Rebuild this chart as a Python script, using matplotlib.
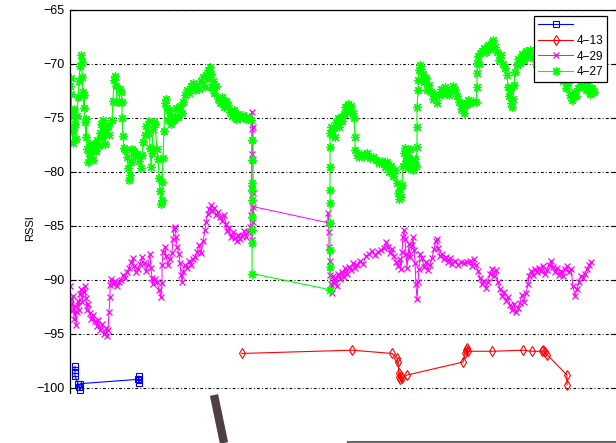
import matplotlib
matplotlib.use("Agg")
import matplotlib.pyplot as plt
from matplotlib.lines import Line2D

plt.rcParams["font.family"] = ["Liberation Sans", "DejaVu Sans"]

# RSSI traces (sample position, dBm)
blue_t = [75, 75, 75, 75, 78, 79, 80, 80, 138, 139, 139, 139]
blue_v = [-98.0, -98.3, -98.6, -98.9, -99.6, -99.9, -100.2, -99.6, -99.2, -98.9, -99.5, -99.3]

red_t = [242, 352, 392, 397, 398, 399, 399, 400, 401, 402, 407, 463, 465, 466, 467, 468,
         492, 523, 532, 542, 543, 545, 547, 567, 567]
red_v = [-96.8, -96.5, -96.8, -97.2, -97.6, -98.6, -99.0, -99.2, -98.9, -99.1, -98.8, -97.6,
         -96.8, -96.5, -96.3, -96.6, -96.6, -96.5, -96.6, -96.6, -96.5, -96.7, -96.9, -98.8, -99.7]

mag_t = [70, 71, 72, 73, 74, 75, 76, 77, 78, 79, 80, 81, 82, 84, 85, 86, 87, 88, 90, 91, 93, 95,
         97, 98, 100, 102, 104, 106, 107, 108, 109, 110, 110, 111, 113, 115, 117, 119, 121, 123,
         125, 127, 129, 131, 133, 134, 136, 138, 140, 142, 144, 146, 148, 150, 151, 152, 153, 155,
         157, 159, 161, 162, 162, 163, 165, 166, 168, 170, 172, 173, 174, 175, 176, 177, 179, 180,
         181, 182, 183, 185, 187, 189, 191, 193, 195, 197, 199, 201, 203, 205, 206, 208, 209, 211,
         212, 214, 216, 218, 220, 222, 224, 226, 227, 229, 231, 233, 235, 237, 238, 240, 242, 244,
         246, 248, 250, 251, 251, 252, 252, 252, 253, 253, 253, 253, 252, 253,
         328, 328, 329, 329, 330, 330, 331, 332, 333, 334, 335, 337, 338, 340, 342, 344, 345, 347,
         349, 351, 353, 355, 357, 360, 363, 366, 369, 372, 375, 378, 381, 384, 386, 388, 390, 392,
         394, 396, 398, 400, 401, 402, 403, 404, 405, 406, 407, 408, 409, 410, 412, 413, 414, 415,
         416, 417, 418, 419, 420, 422, 424, 426, 428, 430, 432, 434, 436, 437, 438, 440, 442, 444,
         446, 448, 450, 452, 455, 458, 461, 464, 467, 470, 472, 474, 476, 478, 480, 482, 484, 486,
         488, 490, 492, 494, 496, 498, 500, 502, 504, 506, 508, 510, 512, 514, 516, 518, 520, 522,
         524, 526, 528, 529, 531, 533, 535, 537, 539, 541, 543, 545, 547, 549, 551, 553, 555, 557,
         559, 561, 563, 565, 567, 569, 571, 573, 575, 577, 579, 581, 583, 585, 587, 589, 591]
mag_v = [-90.6, -91.8, -92.9, -91.5, -93.6, -92.4, -94.2, -93.0, -91.9, -92.8, -91.3, -90.8,
         -92.0, -91.1, -90.6, -91.7, -92.8, -92.2, -93.1, -93.6, -93.2, -93.8, -94.3, -93.7,
         -94.6, -94.1, -95.0, -94.4, -95.2, -94.6, -93.0, -91.6, -90.5, -89.9, -90.4, -90.1,
         -90.6, -90.2, -90.0, -89.5, -89.8, -89.3, -88.9, -88.3, -88.0, -88.7, -89.3, -89.0,
         -88.5, -87.9, -88.4, -89.2, -88.6, -87.6, -88.9, -89.8, -90.4, -89.9, -90.2, -90.9,
         -91.6, -90.3, -88.6, -87.4, -86.9, -87.8, -88.6, -88.1, -87.5, -86.2, -85.3, -85.1,
         -86.0, -86.9, -87.6, -88.4, -89.5, -90.2, -89.3, -88.6, -88.9, -88.2, -88.6, -88.1,
         -87.9, -87.4, -86.8, -87.5, -86.4, -85.4, -84.6, -83.9, -83.4, -83.1, -83.6, -83.3,
         -84.0, -83.7, -84.2, -84.5, -84.0, -84.8, -85.5, -85.2, -86.0, -85.6, -86.1, -86.4,
         -85.8, -86.2, -85.9, -85.5, -86.0, -85.6, -85.1, -84.0, -81.5, -78.3, -76.0, -74.4,
         -75.8, -78.9, -81.9, -84.6, -86.3, -83.2,
         -84.7, -83.8, -85.6, -86.9, -88.2, -89.5, -90.4, -91.2, -89.6, -90.3, -89.8, -90.6,
         -89.4, -89.9, -89.3, -89.7, -88.9, -89.4, -88.8, -89.1, -88.4, -88.9, -88.6, -88.2,
         -88.5, -87.8, -87.6, -87.3, -87.7, -87.4, -87.2, -87.0, -86.5, -86.9, -87.5, -87.1,
         -87.8, -88.3, -88.7, -88.1, -89.0, -87.4, -86.0, -85.4, -86.2, -87.6, -88.9, -87.8,
         -86.7, -87.9, -86.8, -86.0, -87.2, -88.4, -90.4, -91.8, -90.2, -89.0, -87.6, -88.0,
         -88.8, -88.3, -89.1, -88.6, -88.0, -87.1, -86.4, -86.2, -87.0, -87.8, -87.6, -88.1,
         -87.9, -88.3, -88.0, -88.5, -88.2, -88.6, -88.3, -88.4, -88.3, -88.2, -88.7, -88.1,
         -88.6, -89.2, -89.8, -90.4, -90.1, -90.7, -90.2, -89.4, -89.0, -89.6, -89.1, -90.2,
         -90.8, -91.5, -91.1, -91.9, -91.6, -92.3, -92.8, -92.2, -93.0, -92.6, -92.1, -91.4,
         -92.0, -91.2, -90.4, -89.6, -89.2, -89.5, -89.0, -89.3, -88.9, -89.2, -88.7, -89.4,
         -89.1, -88.6, -88.2, -88.8, -89.3, -88.9, -89.5, -89.2, -89.6, -89.0, -88.7, -89.3,
         -89.0, -90.6, -91.5, -90.8, -90.2, -89.6, -89.8, -89.4, -89.0, -88.6, -88.3]

grn_t = [70, 71, 71, 72, 72, 73, 74, 74, 75, 76, 77, 78, 79, 80, 81, 82, 82, 83, 84, 84, 85, 86,
         86, 87, 88, 89, 90, 91, 92, 93, 94, 96, 97, 99, 100, 101, 102, 103, 104, 105, 106, 108,
         109, 112, 113, 114, 115, 116, 117, 119, 120, 121, 122, 122, 123, 124, 125, 127, 128, 129,
         130, 131, 132, 134, 135, 137, 139, 141, 142, 143, 145, 146, 148, 149, 150, 151, 152, 153,
         154, 155, 157, 158, 159, 160, 161, 162, 162, 163, 164, 165, 166, 167, 168, 169, 171, 172,
         174, 176, 178, 180, 182, 183, 185, 187, 189, 191, 193, 195, 197, 199, 201, 203, 205, 206,
         208, 209, 210, 211, 212, 213, 214, 216, 218, 220, 222, 224, 226, 228, 230, 232, 234, 236,
         238, 240, 243, 246, 249, 251, 252, 252, 252, 252, 252, 252, 252, 252, 252,
         330, 330, 330, 330, 330, 330, 330, 330, 330, 331,
         332, 334, 335, 336, 338, 339, 341, 342, 344, 345, 347, 348, 350, 351, 353, 354, 355, 355,
         357, 359, 361, 364, 367, 370, 373, 376, 379, 382, 385, 387, 389, 391, 393, 395, 397, 398,
         399, 400, 401, 402, 403, 404, 405, 406, 407, 408, 409, 410, 412, 413, 415, 416,
         417, 417, 417, 418, 418, 419, 420, 421,
         423, 424, 426, 427, 429, 431, 433, 435, 437, 439, 441, 443, 445, 447, 449, 451, 453, 455,
         457, 459, 461, 462, 464, 466, 468, 470, 473, 476,
         477, 477, 477, 478, 479, 480, 482, 484, 486, 488, 490, 492, 493, 495, 497, 499, 501, 503,
         505, 507, 508, 509, 510, 511, 512, 513, 514, 515, 517, 518, 520, 522, 524, 526, 528, 530,
         533, 536, 540, 544, 548, 552, 556, 560, 563, 566, 568, 570, 572, 574, 576, 578, 580, 583,
         586, 588, 590, 592, 594]
grn_v = [-72.0, -71.3, -72.8, -74.6, -76.2, -77.3, -75.8, -74.2, -75.6, -76.9, -74.8, -73.1,
         -71.6, -70.2, -69.2, -69.8, -71.2, -72.6, -74.1, -72.9, -75.4, -76.8, -75.1, -77.9,
         -79.1, -78.2, -77.4, -78.6, -77.6, -78.9, -77.5, -78.1, -77.0, -77.6, -76.4, -75.6,
         -76.8, -75.2, -76.2, -77.4, -76.0, -75.7, -76.6,
         -75.2, -73.4, -71.5, -71.1, -72.0, -73.5, -73.5, -72.3, -72.6, -73.5, -75.0, -76.7,
         -77.8, -78.0, -78.6, -79.6, -80.7, -80.3, -79.1, -77.9, -78.1, -78.5, -78.3,
         -79.0, -79.6, -78.4, -77.2, -76.6, -75.7, -76.4, -75.3, -77.8, -79.5, -78.2, -76.0,
         -75.4, -75.6, -77.9, -78.8, -80.6, -81.8, -83.0, -82.6, -80.9, -78.7, -76.2, -73.6,
         -73.2, -74.1,
         -75.2, -74.3, -75.6, -74.8, -75.2, -74.1, -74.9, -73.9, -74.5, -73.5, -72.9, -72.4,
         -72.7, -72.0, -71.8, -72.4, -71.9, -72.3, -71.6,
         -71.2, -72.1, -71.0, -70.6, -71.4, -70.3, -70.9, -72.2, -71.6, -72.7, -72.0, -73.2,
         -73.6, -73.1, -74.0, -73.4, -73.8, -74.4, -74.8, -74.3, -75.1, -74.6, -75.0, -74.7,
         -75.1, -74.9, -75.2,
         -77.0, -78.9, -81.0, -81.7, -82.6, -84.2, -85.4, -86.6, -89.4,
         -90.9, -88.8, -87.2, -84.7, -82.9, -81.7, -79.5, -77.7, -76.4, -75.8,
         -76.6, -75.9, -76.8, -75.4, -75.0, -75.8, -74.9, -75.3, -74.6, -74.0, -74.4, -73.7,
         -74.2, -73.9, -74.5, -75.0, -76.8, -78.0,
         -78.4, -78.6, -78.3, -78.5, -78.2, -78.7, -78.6, -78.9, -79.2, -79.0, -79.5, -79.1,
         -80.0, -79.4, -80.4, -79.8, -81.0, -81.9, -82.5, -81.6, -82.3, -81.2, -79.4, -78.2,
         -77.8, -79.0, -78.4, -79.6, -78.7, -77.9, -79.0, -79.8, -78.8, -79.4,
         -77.7, -75.8, -74.0, -72.4, -71.5, -70.6, -70.1, -70.5,
         -70.9, -71.7, -71.3, -72.4, -71.9, -72.6, -73.2, -72.8, -73.6, -72.9, -72.3, -72.8,
         -72.1, -72.6, -72.9, -72.5, -72.0, -72.4, -73.0, -73.5, -74.2, -73.6, -74.5, -73.8,
         -73.3, -73.6, -73.4, -73.5,
         -72.1, -70.8, -69.9, -69.3, -70.0, -69.0, -68.8, -68.5, -68.9, -68.2, -68.6, -68.0,
         -67.8, -68.4, -68.9, -69.6, -69.2, -70.0, -70.4, -71.0, -72.1, -73.0, -72.4, -73.6,
         -74.0, -73.2, -71.9, -70.7, -70.1, -69.5, -69.9, -69.1, -69.6, -68.8, -69.3, -68.7,
         -69.4, -70.0, -69.6, -70.3, -70.0, -70.6, -70.2, -70.9, -71.6, -72.2, -71.8, -72.9,
         -73.3, -72.6, -73.0, -72.2, -71.7, -71.9, -72.4, -71.9, -72.8, -72.2, -72.6]

series_labels = ["", "4\u221213", "4\u221229", "4\u221227"]
yticks = [-100, -95, -90, -85, -80, -75, -70, -65]

W, H = 616, 443
fig = plt.figure(figsize=(W / 100, H / 100), dpi=100)
ax = fig.add_axes([70 / W, 1 - 393.4 / H, 547 / W, 383.4 / H])

h_blue, = ax.plot(blue_t, blue_v, "-s", color="#0000ff", lw=0.8, ms=4.5, mfc="none", mew=0.8)
h_red, = ax.plot(red_t, red_v, "-d", color="#ff0000", lw=0.8, ms=5.5, mfc="none", mew=0.8)
h_mag, = ax.plot(mag_t, mag_v, "-x", color="#ff00ff", lw=0.7, ms=4.5, mew=0.9)
h_grn, = ax.plot(grn_t, grn_v, "-", marker=(8, 2, 0), color="#00ff00", lw=0.8, ms=6.5, mew=0.9)

ax.set_xlim(70, 617)
ax.set_ylim(-100.5, -65)
ax.set_yticks(yticks)
ax.set_xticks([])
ax.spines["bottom"].set_visible(False)
for s in ("left", "top", "right"):
    ax.spines[s].set_linewidth(0.9)
ax.tick_params(axis="y", direction="in", length=4, width=0.8, right=True,
               labelsize=9, pad=4)
ax.set_axisbelow(True)
ax.yaxis.grid(True, color="black", lw=0.8, linestyle=(0, (2.5, 2, 0.8, 2)))

ax.set_ylabel("RSSI", fontsize=8)
ax.yaxis.set_label_coords(-0.064, 0.43)

leg = ax.legend([h_blue, h_red, h_mag, h_grn], series_labels, loc="upper right",
                bbox_to_anchor=(607 / W, 1 - 16 / H), bbox_transform=fig.transFigure,
                fontsize=8.5, numpoints=1, handlelength=3.0, handletextpad=0.3,
                labelspacing=0.3, borderpad=0.3, borderaxespad=0, fancybox=False,
                framealpha=1, edgecolor="black")
leg.get_frame().set_linewidth(0.9)

# pen stroke and table edge in the lower margin
fig.add_artist(Line2D([214 / W, 224 / W], [1 - 395 / H, 0], color="#3b2a2f", lw=6,
                      solid_capstyle="butt", alpha=0.9))
fig.add_artist(Line2D([348 / W, 1], [1 - 442 / H, 1 - 442 / H], color="#666666", lw=1.5))

fig.savefig("out.png", dpi=100)
